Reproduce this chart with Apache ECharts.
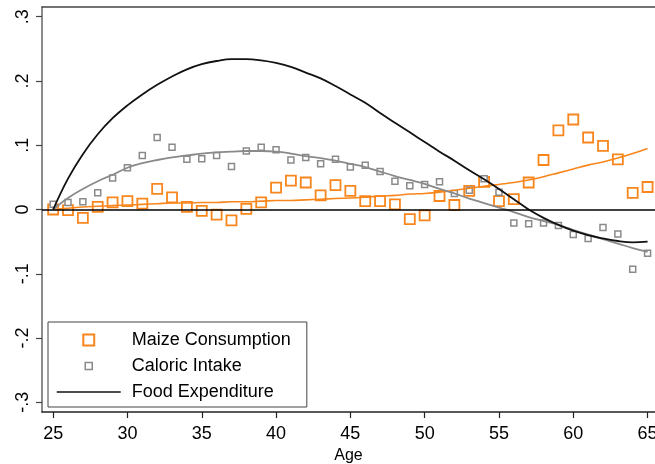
<!DOCTYPE html>
<html>
<head>
<meta charset="utf-8">
<script src="https://cdn.jsdelivr.net/npm/echarts@6/dist/echarts.min.js"></script>
<style>
  html, body { margin: 0; padding: 0; background: #fff; }
  #chart { width: 655px; height: 464px; }
</style>
</head>
<body>
<div id="chart"></div>
<script>
// Age at which each household-head average is measured
const ages = [25, 26, 27, 28, 29, 30, 31, 32, 33, 34, 35, 36, 37, 38, 39, 40, 41, 42, 43, 44, 45,
              46, 47, 48, 49, 50, 51, 52, 53, 54, 55, 56, 57, 58, 59, 60, 61, 62, 63, 64, 65];

// Age profiles (deviation from age 25)
const maize = [0.000, -0.001, -0.013, 0.004, 0.011, 0.013, 0.009, 0.032, 0.019, 0.004, -0.002,
               -0.008, -0.017, 0.001, 0.011, 0.034, 0.045, 0.042, 0.022, 0.038, 0.029, 0.013,
               0.013, 0.008, -0.015, -0.009, 0.021, 0.007, 0.029, 0.043, 0.013, 0.016, 0.042,
               0.077, 0.123, 0.140, 0.112, 0.099, 0.078, 0.026, 0.035];
const caloric = [0.008, 0.011, 0.012, 0.026, 0.049, 0.065, 0.084, 0.112, 0.097, 0.078, 0.079,
                 0.084, 0.067, 0.091, 0.097, 0.093, 0.077, 0.081, 0.071, 0.078, 0.066, 0.069,
                 0.059, 0.044, 0.037, 0.039, 0.043, 0.025, 0.030, 0.048, 0.027, -0.021, -0.022,
                 -0.021, -0.025, -0.039, -0.045, -0.028, -0.038, -0.093, -0.068];

// Smoothed profiles
const maizeFit = [0.000, 0.002, 0.004, 0.005, 0.006, 0.007, 0.008, 0.009, 0.010, 0.010, 0.011,
                  0.011, 0.012, 0.012, 0.013, 0.014, 0.014, 0.015, 0.016, 0.017, 0.018, 0.019,
                  0.021, 0.022, 0.024, 0.025, 0.027, 0.030, 0.033, 0.036, 0.039, 0.042, 0.046,
                  0.051, 0.057, 0.063, 0.069, 0.074, 0.080, 0.087, 0.095];
const caloricFit = [0.000, 0.018, 0.032, 0.044, 0.054, 0.065, 0.072, 0.077, 0.081, 0.084, 0.087,
                    0.089, 0.090, 0.091, 0.091, 0.090, 0.087, 0.083, 0.080, 0.076, 0.071, 0.066,
                    0.059, 0.052, 0.046, 0.040, 0.032, 0.025, 0.017, 0.010, 0.003, -0.004, -0.012,
                    -0.018, -0.024, -0.032, -0.039, -0.046, -0.053, -0.060, -0.066];
const foodFit = [0.000, 0.048, 0.086, 0.117, 0.142, 0.162, 0.179, 0.194, 0.207, 0.218, 0.226,
                 0.231, 0.234, 0.234, 0.232, 0.228, 0.222, 0.213, 0.204, 0.192, 0.179, 0.166,
                 0.150, 0.135, 0.120, 0.105, 0.090, 0.076, 0.061, 0.047, 0.032, 0.016, 0.000,
                 -0.013, -0.024, -0.033, -0.040, -0.045, -0.049, -0.051, -0.050];

const xTicks = [25, 30, 35, 40, 45, 50, 55, 60, 65];
const yTicks = [-0.3, -0.2, -0.1, 0, 0.1, 0.2, 0.3];

const seriesNames = ['Maize Consumption', 'Caloric Intake', 'Food Expenditure'];

const ORANGE = '#f8861c';
const GRAY = '#8a8a8a';
const FONT = "'Liberation Sans', Arial, sans-serif";

const pairs = arr => ages.map((a, i) => [a, arr[i]]);

function yLabel(v) {
  const r = Math.round(v * 10) / 10;
  if (r === 0) return '0';
  return (r < 0 ? '-' : '') + String(Math.abs(r)).replace(/^0/, '');
}

// hollow square legend glyphs; corner points pad the box so the square keeps its size
const squareIcon = m => `path://M${-m},${-m}L${-m},${-m}M${1 + m},${1 + m}L${1 + m},${1 + m}M0,0H1V1H0Z`;

const chart = echarts.init(document.getElementById('chart'), null, { renderer: 'canvas' });

chart.setOption({
  animation: false,
  backgroundColor: '#ffffff',
  textStyle: { fontFamily: FONT },
  grid: { left: 42, right: 0, top: 7, bottom: 52, containLabel: false, outerBoundsMode: 'none' },
  xAxis: [{
    type: 'value',
    min: 24.25,
    max: 65.5,
    name: 'Age',
    nameLocation: 'middle',
    nameGap: 31,
    nameTextStyle: { fontSize: 16, color: '#000', fontFamily: FONT },
    splitLine: { show: false },
    axisLine: { show: true, onZero: false, lineStyle: { color: '#222', width: 1.5 } },
    axisTick: { show: true, inside: false, length: 6, customValues: xTicks, lineStyle: { color: '#222', width: 1.2 } },
    axisLabel: { customValues: xTicks, margin: 13, fontSize: 18, color: '#000', fontFamily: FONT, hideOverlap: false }
  }, {
    type: 'value',
    position: 'top',
    min: 24.25,
    max: 65.5,
    splitLine: { show: false },
    axisLine: { show: true, onZero: false, lineStyle: { color: '#444', width: 1.5 } },
    axisTick: { show: false },
    axisLabel: { show: false }
  }],
  yAxis: {
    type: 'value',
    min: -0.315,
    max: 0.315,
    splitLine: { show: false },
    axisLine: { show: true, onZero: false, lineStyle: { color: '#666', width: 1.5 } },
    axisTick: { show: true, length: 6, customValues: yTicks, lineStyle: { color: '#444', width: 1.2 } },
    axisLabel: {
      customValues: yTicks,
      rotate: 90,
      margin: 10,
      fontSize: 18,
      color: '#000',
      fontFamily: FONT,
      formatter: yLabel
    }
  },
  legend: {
    orient: 'vertical',
    left: 48,
    top: 322,
    padding: [8, 16, 5, 8],
    itemWidth: 64,
    itemHeight: 14,
    itemGap: 6,
    backgroundColor: '#ffffff',
    borderColor: '#444',
    borderWidth: 1,
    borderRadius: 0,
    selectedMode: false,
    textStyle: { fontSize: 18, color: '#000', fontFamily: FONT, lineHeight: 20, padding: [0, 0, 0, 6] },
    data: [
      { name: seriesNames[0], icon: squareIcon(0.14),
        itemStyle: { color: '#ffffff', borderColor: ORANGE, borderWidth: 2 } },
      { name: seriesNames[1], icon: squareIcon(0.5),
        itemStyle: { color: '#ffffff', borderColor: GRAY, borderWidth: 1.5 } },
      { name: seriesNames[2],
        itemStyle: { opacity: 0 },
        lineStyle: { color: '#111', width: 1.5 } }
    ]
  },
  series: [
    {
      name: seriesNames[0],
      type: 'scatter',
      data: pairs(maize),
      symbol: 'rect',
      symbolSize: 10,
      itemStyle: { color: '#ffffff', borderColor: ORANGE, borderWidth: 1.8, opacity: 1 },
      z: 2
    },
    {
      name: seriesNames[1],
      type: 'scatter',
      data: pairs(caloric),
      symbol: 'rect',
      symbolSize: 6,
      itemStyle: { color: '#ffffff', borderColor: GRAY, borderWidth: 1.5, opacity: 1 },
      z: 2
    },
    {
      name: 'Maize Consumption (smoothed)',
      type: 'line',
      data: pairs(maizeFit),
      smooth: 0.4,
      symbol: 'none',
      lineStyle: { color: ORANGE, width: 1.6 },
      z: 3
    },
    {
      name: 'Caloric Intake (smoothed)',
      type: 'line',
      data: pairs(caloricFit),
      smooth: 0.4,
      symbol: 'none',
      lineStyle: { color: GRAY, width: 1.8 },
      z: 3
    },
    {
      name: seriesNames[2],
      type: 'line',
      data: pairs(foodFit),
      smooth: 0.4,
      symbol: 'none',
      color: '#111',
      lineStyle: { color: '#111', width: 1.8 },
      z: 4,
      markLine: {
        silent: true,
        symbol: 'none',
        label: { show: false },
        lineStyle: { color: '#000', width: 1.5, type: 'solid' },
        data: [{ yAxis: 0 }]
      }
    }
  ]
});
</script>
</body>
</html>
